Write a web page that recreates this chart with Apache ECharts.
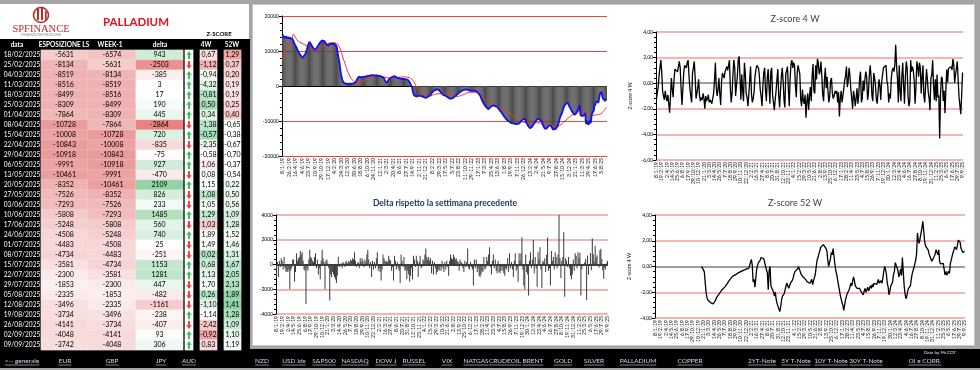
<!DOCTYPE html>
<html><head><meta charset="utf-8">
<script src="https://cdn.jsdelivr.net/npm/echarts@6/dist/echarts.min.js"></script>
<style>html,body{margin:0;padding:0;background:#a5a5a5;overflow:hidden}#c{width:980px;height:370px}</style>
</head><body><div id="c"></div>
<script>
// ---------------- DATA ----------------
const firstWeek = '2019-01-08';
const tableDates = ['18/02/2025','25/02/2025','04/03/2025','11/03/2025','18/03/2025','25/03/2025','01/04/2025','08/04/2025','15/04/2025','22/04/2025','29/04/2025','06/05/2025','13/05/2025','20/05/2025','27/05/2025','03/06/2025','10/06/2025','17/06/2025','24/06/2025','01/07/2025','08/07/2025','15/07/2025','22/07/2025','29/07/2025','05/08/2025','12/08/2025','19/08/2025','26/08/2025','02/09/2025','09/09/2025'];
const tableExposure = [-5631,-8134,-8519,-8516,-8499,-8309,-7864,-10728,-10008,-10843,-10918,-9991,-10461,-8352,-7526,-7293,-5808,-5248,-4508,-4483,-4734,-3581,-2300,-1853,-2335,-3496,-3734,-4141,-4048,-3742];
const tableWeekPrev = [-6574,-5631,-8134,-8519,-8516,-8499,-8309,-7864,-10728,-10008,-10843,-10918,-9991,-10461,-8352,-7526,-7293,-5808,-5248,-4508,-4483,-4734,-3581,-2300,-1853,-2335,-3496,-3734,-4141,-4048];
const tableDelta = [943,-2503,-385,3,17,190,445,-2864,720,-835,-75,927,-470,2109,826,233,1485,560,740,25,-251,1153,1281,447,-482,-1161,-238,-407,93,306];
const tableArrow = [1,-1,1,1,1,1,1,-1,1,-1,1,1,-1,1,-1,-1,1,-1,1,-1,-1,1,1,-1,-1,-1,1,-1,1,1];
const tableZ4 = [0.67,-1.12,-0.94,-4.32,-0.81,0.50,0.34,-1.38,-0.57,-2.35,-0.58,1.06,0.08,1.15,1.08,1.05,1.29,1.03,1.89,1.49,0.02,0.68,1.13,1.70,0.26,-1.10,-1.14,-2.42,-0.92,0.83];
const tableZ52 = [1.29,0.37,0.20,0.19,0.19,0.25,0.40,-0.65,-0.38,-0.67,-0.70,-0.37,-0.54,0.22,0.50,0.56,1.09,1.28,1.52,1.46,1.31,1.67,2.05,2.13,1.89,1.41,1.28,1.09,1.10,1.19];
// conditional-format level of the two z-score columns (-1 red ... +1 green)
const z4Heat = [-0.2,-0.5,0.1,0.2,0.5,0.6,0.2,0.45,0.6,0.15,0,-0.15,0.05,0,0.45,0.05,0.4,-0.35,0.05,0.03,0.5,0.3,0.2,0.05,0.45,0.2,0,-0.35,-0.6,-0.25];
const z52Heat = [-0.6,-0.35,-0.3,-0.2,-0.2,-0.3,-0.35,0,0,0,0,0,0,0.1,0.15,0.15,0.3,0.25,0.05,0.1,0.25,0.45,0.5,0.5,0.7,0.75,0.55,0.35,0.15,0.05];

// weekly history before the table (weeks 0..318)
const exposureHistory = [
14600,14300,14000,13800,14100,13700,13900,13600,13800,13500,
13500,13200,12700,12000,11500,11000,10400,9900,9400,9000,
8600,8200,8100,8600,8900,9400,10300,11200,12000,12500,
12200,11800,11300,10900,10600,10400,10600,11000,11400,11800,
12300,12600,12900,13000,12900,12800,12400,12000,11800,11600,
11800,12000,12000,12100,12000,12100,12000,11800,11400,10000,
8300,7000,5000,3200,2000,1300,900,800,700,650,
600,650,700,600,650,700,750,800,1000,1300,
1800,2300,2600,2600,2500,2500,2600,2600,2700,2700,
2800,2800,2900,2900,3000,3000,3100,3100,3000,3000,
3000,3000,3000,2900,2900,2800,2700,2600,2400,2200,
1600,1200,1000,1300,1800,2100,2300,2500,2600,2700,
2800,2700,2600,2400,2300,2200,2200,2100,2100,2000,
2000,2000,1900,1900,1800,1700,1300,800,300,-300,
-1500,-2500,-2800,-2900,-3000,-2900,-2800,-2800,-2800,-2900,
-3000,-3000,-3200,-3300,-3400,-3300,-3100,-2900,-2700,-2500,
-2100,-1800,-1500,-1300,-1200,-1000,-1000,-1000,-1200,-1500,
-1800,-2100,-2400,-2600,-2600,-2800,-3000,-3100,-3300,-3500,
-3600,-3600,-3500,-3400,-3200,-3000,-2800,-2600,-2300,-2100,
-1900,-1700,-1500,-1300,-1200,-1100,-1000,-1000,-1000,-1100,
-1200,-1300,-1400,-1400,-1400,-1400,-1300,-1400,-1500,-1700,
-2000,-2300,-2600,-3200,-3900,-4500,-5000,-5400,-5800,-6100,
-6400,-6600,-6400,-6100,-5900,-5700,-5600,-5600,-5700,-5800,
-5900,-6100,-6500,-6800,-7200,-7500,-7900,-8300,-8700,-9000,
-9400,-9700,-9900,-10100,-10300,-10400,-10600,-10700,-10700,-10800,
-10800,-10800,-10900,-10800,-10700,-10500,-10100,-9900,-9600,-9500,
-9400,-9800,-10500,-11000,-11500,-11800,-12000,-11900,-11600,-11200,
-10800,-10400,-10000,-9700,-9400,-9400,-9600,-9800,-10000,-10600,
-11300,-11800,-12200,-12200,-12000,-11700,-11400,-11300,-11300,-11700,
-12200,-12400,-12400,-12300,-12000,-11600,-11000,-10200,-9000,-8400,
-7800,-7000,-6200,-5600,-5200,-5000,-4800,-5200,-5800,-6300,
-6800,-7300,-7700,-8000,-8200,-7900,-7500,-7000,-6574];
// red trend line read at selected weeks
const trendWeeks = [0,3,6,9,12,14,17,21,27,32,37,43,48,53,58,61,64,67,70,73,76,79,84,89,94,102,109,116,123,130,136,139,141,144,148,151,157,162,167,173,180,187,194,201,208,212,216,223,230,237,244,251,258,265,273,280,287,294,299,305,310,315,321,326,331,337,342,348];
const trendValues = [7500,10300,11200,12300,14800,13800,12800,12200,11300,10400,10400,11300,12000,12400,12200,11300,8900,6500,4200,2500,1500,1000,1200,1800,2500,2900,2600,2200,2400,2600,2400,1900,1300,-300,-1500,-2500,-3000,-2500,-2200,-2200,-2500,-3000,-2500,-1800,-1800,-2300,-3400,-4800,-5800,-6700,-7700,-9100,-10300,-10500,-10500,-10700,-11000,-11700,-11000,-9600,-8500,-7700,-7200,-7700,-8500,-8200,-7900,-6000];
const deltaHistory = [
-1000,200,-1000,300,-200,500,300,-400,600,-300,
-600,-500,-600,-400,-2000,-500,-300,400,400,-1400,
-600,900,300,500,600,1100,800,1000,300,-400,
-500,-3200,-300,-500,400,1200,600,500,300,200,
600,900,-300,400,-800,-300,-1200,300,1200,500,
200,-2000,300,400,100,-300,-2900,-800,-1000,-600,
-800,-1000,-1200,-1500,-900,600,-200,-100,100,-300,
200,100,-200,300,200,100,300,200,400,300,
500,400,1000,300,-200,100,200,-300,500,200,
500,300,-200,400,200,800,1200,400,-300,200,
-1000,300,-400,200,-300,500,1000,-500,-300,-600,
-1300,-400,800,500,300,200,300,200,700,400,
300,-500,-200,-1300,700,300,-400,200,-300,-500,
-1500,800,300,-200,600,-500,-400,-1200,-500,-800,
-1400,-900,-300,-1200,700,400,-200,700,300,-1000,
200,700,-300,-200,400,300,800,1300,600,400,
600,300,500,-700,300,-800,200,-300,-800,-600,
-400,-500,-200,-500,300,-300,-600,200,-400,300,
-200,-900,300,800,500,400,800,600,400,500,
300,200,-500,400,200,100,-300,-600,300,-200,
200,1300,-300,-400,200,-200,-400,-1700,400,-300,
400,-600,-300,-900,-1000,-800,-500,-600,600,-400,
-300,600,300,800,1400,-200,-800,300,800,-300,
400,-500,-700,300,-600,-700,-500,-200,-500,-700,
-900,-300,-400,500,-600,900,-300,200,-400,-1000,
300,900,-500,-300,-1400,900,300,900,2200,-400,
-1700,-2000,800,-600,-800,-2500,300,1000,-300,400,
2000,-700,600,-300,-1800,1000,400,1400,-400,-1900,
300,200,500,-600,800,2200,-500,-300,-1700,1100,
300,600,-400,1000,600,-300,800,4000,500,-1100,
300,600,2600,-2600,500,300,-200,600,-300,-900,
-1200,-800,400,-500,900,700,-300,1000,500];
const z4History = [
-1.2,-1.1,-0.3,0.6,1.2,1.8,0.9,-0.6,-1.0,-1.3,
-0.6,-1.1,-1.4,-0.9,-1.6,-2.3,-1.0,0.4,-0.5,-1.1,
0.3,1.1,1.0,1.1,0.9,1.3,1.7,1.2,-0.4,-1.7,
-0.5,0.8,1.4,1.5,1.2,1.6,1.8,0.6,-0.4,-1.0,
-1.5,0.8,1.2,1.7,0.5,-1.2,-0.8,-0.3,0.3,-1.0,
-1.4,-1.1,-1.3,-0.8,-1.2,-2.0,-1.0,-1.4,-1.2,-0.9,
-1.5,-1.3,-1.4,-1.6,-1.2,-0.8,0.2,1.6,-0.3,-1.0,
-0.5,0.4,-0.8,-1.7,0.1,0.8,0.6,0.4,0.9,1.1,
1.3,1.0,1.4,1.8,-0.4,-1.5,-0.8,0.7,1.8,1.2,
-1.0,-0.2,0.6,1.8,2.1,0.4,-1.3,0.7,-0.6,-1.4,
1.6,0.8,-0.8,-1.1,-1.8,-0.9,0.2,1.3,-0.8,-1.5,
-1.2,-0.7,0.5,1.0,1.4,1.5,1.2,0.6,-0.5,-1.0,
-1.8,-0.2,0.8,1.2,-0.6,-1.4,0.4,1.1,-0.3,-1.6,
0.9,1.2,-0.9,-1.5,-2.1,-1.3,-0.6,0.3,1.1,-1.0,
-1.9,-0.6,0.5,1.2,0.2,-1.3,-1.9,0.7,1.0,1.3,
-0.5,-1.8,0.4,1.5,1.8,1.2,1.6,1.4,-0.2,-1.1,
0.8,1.4,1.5,0.7,-1.3,-1.8,-0.5,-1.4,-1.6,-0.9,
-2.7,-1.4,-0.8,-2.1,-1.0,-0.3,-1.4,0.6,1.5,-0.6,
-0.8,1.4,0.3,1.9,1.6,0.7,0.9,1.7,0.6,-0.9,
-1.4,0.3,1.2,-0.4,0.5,-0.6,-1.5,-1.0,0.2,0.4,
-0.8,-1.2,-1.0,-0.6,-0.8,-0.6,-1.5,-0.7,-2.6,-1.2,
-0.6,-1.5,-1.0,-0.4,0.2,0.6,1.3,-0.3,0.2,1.2,
0.6,-0.5,-1.2,-2.0,-0.6,-1.0,-1.8,-1.2,-0.4,-1.6,
-0.9,0.4,0.9,-1.5,-1.2,0.2,-0.6,0.3,0.9,0.5,
-1.3,-0.8,0.6,1.4,0.5,-1.0,-1.4,0.8,0.4,-0.2,
-1.3,-1.6,-0.6,0.3,-0.2,-1.3,0.1,0.6,1.2,1.1,
1.3,1.4,0.2,-0.2,-1.5,-0.8,-1.2,0.4,1.0,1.2,
0.9,1.4,3.0,1.3,0.4,-1.5,1.4,-0.6,-1.4,0.6,
1.6,-0.2,-1.6,0.5,1.7,1.2,-1.0,-1.8,-1.4,1.8,
0.9,1.3,1.0,0.2,-1.6,-0.3,1.7,1.3,0.5,1.6,
1.2,-0.8,0.5,1.4,-1.0,-1.5,-0.2,1.1,0.3,-0.7,
-1.2,-2.1,0.4,0.6,1.8,-0.2,-1.3,0.3,-1.4];
const z52FirstWeek = 52;
const z52History = [
0.0,0.05,-0.1,-0.4,-1.2,-2.0,-2.4,-2.6,
-2.7,-2.75,-2.8,-2.85,-2.8,-2.9,-2.85,-2.7,-2.55,-2.4,
-2.3,-2.2,-2.1,-2.0,-1.9,-1.8,-1.75,-1.7,-1.6,-1.5,
-1.4,-1.3,-1.2,-1.1,-1.0,-0.95,-0.85,-0.75,-0.7,-0.7,
-0.65,-0.6,-0.55,-0.5,-0.5,-0.45,-0.4,-0.4,-0.35,-0.3,
-0.3,-0.25,-0.2,-0.15,-0.2,-0.15,-0.2,-0.1,0.55,0.1,
-1.2,-1.0,-1.6,-0.9,-0.2,0.1,0.3,0.4,0.5,0.7,
0.8,0.85,0.6,0.3,0.0,0.1,-0.5,-1.8,-0.3,0.0,
-1.5,-1.4,-1.6,-2.0,-2.3,-2.0,-2.6,-2.9,-3.1,-3.3,
-3.5,-3.1,-2.6,-2.3,-2.4,-2.1,-1.8,-1.5,-1.3,-1.4,
-1.7,-1.5,-1.3,-1.2,-1.1,-0.9,-0.6,-0.4,-0.4,-0.3,
-0.2,0.0,-0.2,-0.4,-0.6,-0.7,-0.8,-0.8,-0.9,-1.0,
-1.0,-1.2,-1.3,-1.1,-1.3,-1.2,-1.0,-1.4,-1.1,-1.0,
-0.6,0.0,0.5,0.7,1.0,1.2,1.5,1.6,1.5,1.7,
1.75,1.6,1.4,1.2,0.5,0.0,-0.1,0.6,1.1,0.9,
1.4,0.8,0.2,-0.3,-0.6,-1.0,-1.4,-1.8,-2.2,-2.5,
-2.8,-3.0,-3.4,-3.0,-2.6,-2.3,-2.1,-2.0,-1.8,-1.6,
-1.3,-1.5,-1.4,-0.8,-1.1,-1.5,-1.4,-1.7,-1.6,-1.8,
-1.7,-1.9,-2.0,-1.8,-2.2,-1.9,-1.7,-2.0,-1.8,-1.6,
-1.9,-1.7,-1.5,-1.7,-1.4,-1.6,-1.3,-1.4,-1.2,-1.4,
-1.2,-1.0,-1.3,-1.4,-1.1,-1.3,-0.9,-0.4,0.0,-0.2,
-0.6,-1.3,-1.6,-2.2,-1.9,-1.5,-1.6,-1.2,-0.6,-0.4,
0.3,0.2,-0.1,-0.3,-0.8,-0.6,-0.2,-0.7,0.7,-0.4,
-1.5,-2.1,-2.5,-2.3,-1.9,-1.7,-1.8,-1.5,-1.0,-0.6,
-0.3,-0.1,0.2,0.5,1.0,2.6,2.0,1.8,2.2,2.6,
3.0,3.5,2.8,2.0,1.6,1.55,1.5,1.3,1.0,0.8,
0.6,0.4,0.3,0.5,0.8,1.0,1.3,1.1,0.9];

const tableHeaders = ['data','ESPOSIZIONE LS','WEEK-1','delta','4W','52W'];
const navLinks = ['<-- generale','EUR','GBP','JPY','AUD','NZD','USD Idx','S&P500','NASDAQ','DOW J','RUSSEL','VIX','NATGAS','CRUDEOIL','BRENT','GOLD','SILVER','PALLADIUM','COPPER','2YT-Note','5Y T-Note','10Y T-Note','30Y T-Note','OI e CORR.'];

// ---------------- LAYOUT ----------------
const navX = [22,65,112,161,189,262,294,324,355,386,414,447,476,505,533,563,594,638,690,762,796,831,866,925];
const headerX = [17,64,110,160,206,232];
const tableCols = [[3,38],[41,47],[88,48],[136,47],[185,8],[200,17],[224,17]];
const FONT = 'Lato, "Liberation Sans", sans-serif';

// ---------------- BUILD ----------------
const exposure = exposureHistory.concat(tableExposure);
const delta = deltaHistory.concat(tableDelta);
const z4 = z4History.concat(tableZ4);
const z52 = z52History.concat(tableZ52).map((v, i) => [z52FirstWeek + i, v]);
const trend = trendWeeks.map((w, i) => [w, trendValues[i]]);
const weekLabels = [];
const t0 = Date.parse(firstWeek + 'T00:00:00Z');
for (let i = 0; i < exposure.length; i++) {
  const d = new Date(t0 + i * 7 * 86400000);
  weekLabels.push(d.getUTCDate() + '/' + (d.getUTCMonth() + 1) + '/' + String(d.getUTCFullYear()).slice(2));
}
function hex(c){return [parseInt(c.slice(1,3),16),parseInt(c.slice(3,5),16),parseInt(c.slice(5,7),16)];}
function lerp(a,b,t){const A=hex(a),B=hex(b);t=Math.max(0,Math.min(1,t));return 'rgb('+A.map((x,i)=>Math.round(x+(B[i]-x)*t)).join(',')+')';}
const expColor = v => lerp('#fdf2f2', '#e99797', (-v - 1500) / 9800);
const deltaColor = v => v >= 0 ? lerp('#ffffff', '#8ed2a2', v / 2200) : lerp('#ffffff', '#e97f7f', -v / 2900);
const heatColor = h => h >= 0 ? lerp('#ffffff', '#62c282', h) : lerp('#ffffff', '#e86464', -h);
const comma = v => v.toFixed(2).replace('.', ',');

const grids = [
  {left: 282, top: 16, width: 325, height: 140},
  {left: 276, top: 215, width: 332, height: 99},
  {left: 656, top: 32, width: 307, height: 128},
  {left: 655, top: 215, width: 310, height: 103}
];
tableCols.forEach(c => grids.push({left: c[0], top: 50, width: c[1], height: 300}));

function chartX(g, interval) {
  return {type: 'category', gridIndex: g, data: weekLabels, boundaryGap: true,
    axisLine: {show: false}, axisTick: {show: false}, splitLine: {show: false},
    axisLabel: {interval: interval, rotate: 90, fontSize: 5, color: '#000', margin: 2, fontFamily: FONT}};
}
function chartY(g, min, max, step, colors, width, fmt, name) {
  const y = {type: 'value', gridIndex: g, min: min, max: max, interval: step,
    axisLine: {show: true, lineStyle: {color: '#000', width: 1}},
    axisTick: {show: true, length: 3, lineStyle: {color: '#000'}},
    minorTick: {show: true, splitNumber: 5, length: 2, lineStyle: {color: '#000'}},
    splitLine: {show: true, lineStyle: {color: colors, width: width}},
    axisLabel: {fontSize: 5, color: '#000', margin: 3, formatter: fmt, fontFamily: FONT}};
  if (name) Object.assign(y, {name: name, nameLocation: 'middle', nameRotate: 90, nameGap: 23,
    nameTextStyle: {fontSize: 5, color: '#111', fontFamily: FONT}});
  return y;
}
const xAxes = [chartX(0, 6), chartX(1, 5), chartX(2, 5), chartX(3, 5)];
const R1 = '#e04848', R2 = '#f29c9c';
const yAxes = [
  chartY(0, -20000, 20000, 10000, [R1, R1, '#000', R1, R1], 1, v => String(v)),
  chartY(1, -4000, 4000, 2000, [R2, R2, '#000', R2, R2], 1.5, v => String(v)),
  chartY(2, -6, 4, 2, [R2, R2, R2, '#7f7f7f', R2, R2], 1.5, comma, 'Z-score 4 W'),
  chartY(3, -4, 4, 2, [R2, R2, '#7f7f7f', R2, R2], 1.5, comma, 'Z-score 4 W')
];
const rowIdx = tableDates.map((d, i) => i);
for (let k = 0; k < tableCols.length; k++) {
  xAxes.push({type: 'category', gridIndex: 4 + k, data: ['c'], show: false});
  yAxes.push({type: 'category', gridIndex: 4 + k, data: rowIdx, inverse: true, show: false});
}

const series = [
  {type: 'bar', xAxisIndex: 0, yAxisIndex: 0, data: exposure, barCategoryGap: '30%',
    itemStyle: {color: '#4a4a4a'}, silent: true, z: 1},
  {type: 'line', xAxisIndex: 0, yAxisIndex: 0, data: trend, smooth: 0.4, showSymbol: false,
    lineStyle: {color: '#ff3030', width: 1}, z: 3},
  {type: 'line', xAxisIndex: 0, yAxisIndex: 0, data: exposure, smooth: 0.5, showSymbol: false,
    lineStyle: {color: '#1010f0', width: 1.8}, z: 4},
  {type: 'bar', xAxisIndex: 1, yAxisIndex: 1, data: delta, barCategoryGap: '35%',
    itemStyle: {color: '#3a3a3a'}, silent: true},
  {type: 'line', xAxisIndex: 2, yAxisIndex: 2, data: z4, showSymbol: false,
    lineStyle: {color: '#000', width: 1.3}},
  {type: 'line', xAxisIndex: 3, yAxisIndex: 3, data: z52, showSymbol: false,
    lineStyle: {color: '#000', width: 1.3}}
];
function cellSeries(k, values, colorFn, fmt, textColor) {
  return {type: 'heatmap', xAxisIndex: 4 + k, yAxisIndex: 4 + k, silent: true,
    data: values.map((v, r) => ({value: [0, r, typeof v === 'number' ? v : r], itemStyle: {color: colorFn(v, r)}})),
    itemStyle: {borderColor: 'rgba(255,255,255,0.35)', borderWidth: 0.5},
    label: {show: !!fmt, fontSize: 7, color: textColor || '#000', fontFamily: FONT,
      formatter: p => fmt ? fmt(values[p.data.value[1]]) : ''}};
}
series.push(cellSeries(0, tableDates, () => '#000', v => v, '#fff'));
series[series.length - 1].label.fontSize = 6.6;
series[series.length - 1].itemStyle = {borderWidth: 0};
series.push(cellSeries(1, tableExposure, expColor, v => String(v)));
series.push(cellSeries(2, tableWeekPrev, expColor, v => String(v)));
series.push(cellSeries(3, tableDelta, deltaColor, v => String(v)));
series.push(cellSeries(4, tableArrow, () => '#ffffff', null));
series.push(cellSeries(5, tableZ4, (v, r) => heatColor(z4Heat[r]), comma));
series.push(cellSeries(6, tableZ52, (v, r) => heatColor(z52Heat[r]), comma));
series.push({type: 'scatter', xAxisIndex: 8, yAxisIndex: 8, silent: true, z: 5,
  symbol: 'path://M5 0 L10 5.5 L6.9 5.5 L6.9 12 L3.1 12 L3.1 5.5 L0 5.5 Z', symbolSize: [5.5, 8],
  data: tableArrow.map((a, r) => ({value: [0, r], symbolRotate: a > 0 ? 0 : 180,
    itemStyle: {color: a > 0 ? '#12b03c' : '#f01010'}}))});

// graphics
const mctx = document.createElement('canvas').getContext('2d');
const els = [
  {type: 'rect', z: -5, shape: {x: 0, y: 4, width: 249, height: 36}, style: {fill: '#fff'}},
  {type: 'rect', z: -5, shape: {x: 0, y: 39, width: 250, height: 312}, style: {fill: '#000'}},
  {type: 'rect', z: -5, shape: {x: 252.5, y: 4.5, width: 722, height: 341}, style: {fill: '#fff', stroke: '#c8c8c8', lineWidth: 1}},
  {type: 'rect', z: -5, shape: {x: 0, y: 349, width: 980, height: 19}, style: {fill: '#000'}},
  // logo
  {type: 'circle', z: 10, shape: {cx: 41, cy: 15, r: 7.5}, style: {fill: 'none', stroke: '#c0282d', lineWidth: 1.6}},
  {type: 'rect', z: 10, shape: {x: 37, y: 9, width: 2, height: 11}, style: {fill: '#c0282d'}},
  {type: 'rect', z: 10, shape: {x: 41, y: 7, width: 2, height: 13}, style: {fill: '#c0282d'}},
  {type: 'rect', z: 10, shape: {x: 45, y: 11, width: 1.6, height: 9}, style: {fill: '#c0282d'}},
  {type: 'text', z: 10, x: 41, y: 29, style: {text: 'SPFINANCE', fill: '#c0282d', font: '10.5px "Liberation Serif", serif', align: 'center', verticalAlign: 'middle'}},
  {type: 'text', z: 10, x: 41, y: 35, style: {text: 'FINANZA PER PASSIONE', fill: '#8a8a8a', font: '3.5px ' + FONT, align: 'center', verticalAlign: 'middle'}},
  {type: 'text', z: 10, x: 136, y: 22, style: {text: 'PALLADIUM', fill: '#e3101e', font: 'bold 11.5px ' + FONT, align: 'center', verticalAlign: 'middle'}},
  {type: 'text', z: 10, x: 219, y: 34, style: {text: 'Z-SCORE', fill: '#000', font: 'bold 6px ' + FONT, align: 'center', verticalAlign: 'middle'}},
  // chart titles
  {type: 'text', z: 10, x: 795, y: 19, style: {text: 'Z-score 4 W', fill: '#404040', font: '9px ' + FONT, align: 'center', verticalAlign: 'middle'}},
  {type: 'text', z: 10, x: 795, y: 203, style: {text: 'Z-score 52 W', fill: '#404040', font: '9px ' + FONT, align: 'center', verticalAlign: 'middle'}},
  {type: 'text', z: 10, x: 445, y: 203, style: {text: 'Delta rispetto la settimana precedente', fill: '#1f3864', font: 'bold 8.5px ' + FONT, align: 'center', verticalAlign: 'middle'}},
  {type: 'text', z: 10, x: 940, y: 353, style: {text: 'Data by Mr.COT', fill: '#e6e6e6', font: '4.5px ' + FONT, align: 'center', verticalAlign: 'middle'}}
];
tableHeaders.forEach((h, i) => els.push({type: 'text', z: 10, x: headerX[i], y: 45,
  style: {text: h, fill: '#fff', font: 'bold 6.5px ' + FONT, align: 'center', verticalAlign: 'middle'}}));
mctx.font = '6.5px Lato';
navLinks.forEach((t, i) => {
  const w = mctx.measureText(t).width;
  els.push({type: 'text', z: 10, x: navX[i], y: 361, style: {text: t, fill: '#d3dbf3', font: '6.5px ' + FONT, align: 'center', verticalAlign: 'middle'}});
  els.push({type: 'line', z: 10, shape: {x1: navX[i] - w / 2, y1: 365, x2: navX[i] + w / 2, y2: 365}, style: {stroke: '#d3dbf3', lineWidth: 0.6}});
});

const chart = echarts.init(document.getElementById('c'), null, {width: 980, height: 370});
chart.setOption({
  animation: false,
  backgroundColor: '#a5a5a5',
  textStyle: {fontFamily: FONT},
  grid: grids, xAxis: xAxes, yAxis: yAxes, series: series,
  graphic: {elements: els}
});
</script></body></html>
